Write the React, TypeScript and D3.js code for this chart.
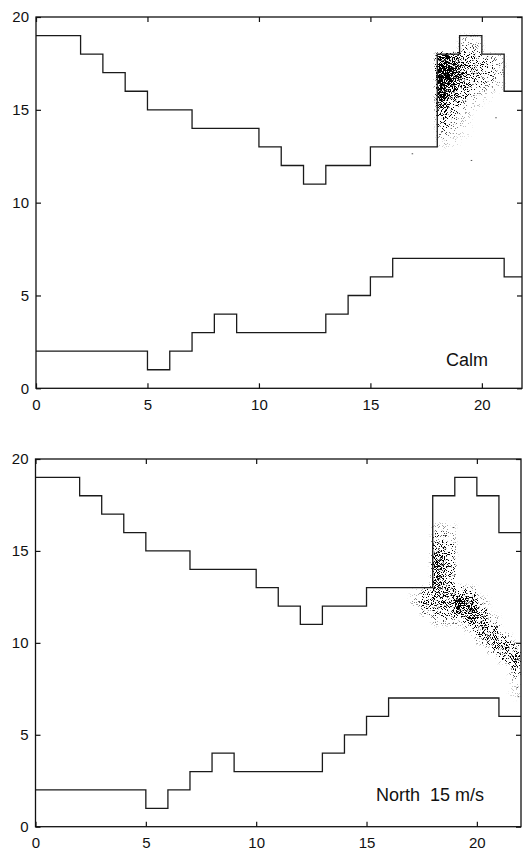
import React, { useEffect, useRef } from 'react';
import * as d3 from 'd3';

// axis ticks
const xTicks = [0, 5, 10, 15, 20];
const yTicks = [0, 5, 10, 15, 20];

// upper boundary (step, value holds until next x)
const upperX = [0, 2, 3, 4, 5, 7, 10, 11, 12, 13, 15, 18, 19, 20, 21, 22];
const upperY = [19, 18, 17, 16, 15, 14, 13, 12, 11, 12, 13, 18, 19, 18, 16, 16];

// lower boundary
const lowerX = [0, 5, 6, 7, 8, 9, 13, 14, 15, 16, 21, 22];
const lowerY = [2, 1, 2, 3, 4, 3, 4, 5, 6, 7, 6, 6];

// particle density cells, 0.5 x 0.5 units: [x0, y0, density]
type Cell = [number, number, number];
const calmCloud: Cell[] = [
  [19, 18.5, 0.1], [19.5, 18.5, 0.08],
  [19, 18, 0.2], [19.5, 18, 0.15],
  [18, 17.5, 0.9], [18.5, 17.5, 0.65], [19, 17.5, 0.45], [19.5, 17.5, 0.3], [20, 17.5, 0.18], [20.5, 17.5, 0.1],
  [18, 17, 0.95], [18.5, 17, 0.75], [19, 17, 0.5], [19.5, 17, 0.32], [20, 17, 0.22], [20.5, 17, 0.12],
  [18, 16.5, 1], [18.5, 16.5, 0.8], [19, 16.5, 0.5], [19.5, 16.5, 0.3], [20, 16.5, 0.22], [20.5, 16.5, 0.12],
  [18, 16, 0.95], [18.5, 16, 0.65], [19, 16, 0.38], [19.5, 16, 0.22], [20, 16, 0.12], [20.5, 16, 0.06],
  [18, 15.5, 0.85], [18.5, 15.5, 0.45], [19, 15.5, 0.22], [19.5, 15.5, 0.1], [20, 15.5, 0.04],
  [18, 15, 0.7], [18.5, 15, 0.3], [19, 15, 0.12], [19.5, 15, 0.05],
  [18, 14.5, 0.45], [18.5, 14.5, 0.18], [19, 14.5, 0.07],
  [18, 14, 0.28], [18.5, 14, 0.12], [19, 14, 0.05],
  [18, 13.5, 0.15], [18.5, 13.5, 0.08], [19, 13.5, 0.03],
  [18, 13, 0.07], [18.5, 13, 0.04],
];
const northCloud: Cell[] = [
  [18, 16, 0.1], [18.5, 16, 0.08],
  [18, 15.5, 0.25], [18.5, 15.5, 0.15],
  [18, 15, 0.45], [18.5, 15, 0.25],
  [18, 14.5, 0.55], [18.5, 14.5, 0.3],
  [18, 14, 0.75], [18.5, 14, 0.35],
  [18, 13.5, 0.6], [18.5, 13.5, 0.3],
  [18, 13, 0.55], [18.5, 13, 0.25],
  [17, 12.5, 0.05], [17.5, 12.5, 0.25], [18, 12.5, 0.5], [18.5, 12.5, 0.4], [19, 12.5, 0.45], [19.5, 12.5, 0.2],
  [17, 12, 0.1], [17.5, 12, 0.4], [18, 12, 0.45], [18.5, 12, 0.45], [19, 12, 0.85], [19.5, 12, 0.5], [20, 12, 0.1],
  [17.5, 11.5, 0.2], [18, 11.5, 0.35], [18.5, 11.5, 0.3], [19, 11.5, 0.6], [19.5, 11.5, 0.75], [20, 11.5, 0.25],
  [18, 11, 0.15], [18.5, 11, 0.15], [19, 11, 0.2], [19.5, 11, 0.55], [20, 11, 0.5], [20.5, 11, 0.1],
  [19.5, 10.5, 0.15], [20, 10.5, 0.55], [20.5, 10.5, 0.35],
  [20, 10, 0.3], [20.5, 10, 0.55], [21, 10, 0.2],
  [20.5, 9.5, 0.3], [21, 9.5, 0.5], [21.5, 9.5, 0.2],
  [21, 9, 0.35], [21.5, 9, 0.55],
  [21.5, 8.5, 0.45],
  [21.5, 8, 0.15],
  [21.5, 7.5, 0.05], [21.5, 7, 0.05],
];
const CELL = 0.5;

// isolated particles [x, y]
const calmStray: [number, number][] = [[16.85, 12.66], [19.5, 12.3], [21.8, 15.05], [20.6, 14.6]];
const northStray: [number, number][] = [[21.8, 7.6], [21.85, 7.1], [18.9, 16.3]];

type Box = { left: number; right: number; top: number; bottom: number; xMax: number };

const FONT = '"Liberation Sans", Arial, sans-serif';

function Panel({ box, cloud, stray, label, lx, ly }:
  { box: Box; cloud: Cell[]; stray: [number, number][]; label: string; lx: number; ly: number }) {
  const ref = useRef<SVGGElement>(null);

  useEffect(() => {
    const g = d3.select(ref.current);
    g.selectAll('*').remove();

    const x = d3.scaleLinear().domain([0, box.xMax]).range([box.left, box.right]);
    const y = d3.scaleLinear().domain([0, 20]).range([box.bottom, box.top]);

    const clipId = 'clip' + Math.round(box.top);
    g.append('clipPath').attr('id', clipId)
      .append('rect')
      .attr('x', box.left).attr('y', box.top)
      .attr('width', box.right - box.left).attr('height', box.bottom - box.top);

    const plot = g.append('g').attr('clip-path', `url(#${clipId})`);

    // particle cloud
    const cloudG = plot.append('g').attr('filter', 'url(#stipple)');
    cloudG.selectAll('rect')
      .data(cloud)
      .enter()
      .append('rect')
      .attr('x', d => x(d[0]))
      .attr('y', d => y(d[1] + CELL))
      .attr('width', d => x(d[0] + CELL) - x(d[0]))
      .attr('height', d => y(d[1]) - y(d[1] + CELL))
      .attr('fill', '#000')
      .attr('fill-opacity', d => d[2]);

    plot.selectAll('rect.stray')
      .data(stray)
      .enter()
      .append('rect')
      .attr('class', 'stray')
      .attr('x', d => x(d[0]))
      .attr('y', d => y(d[1]))
      .attr('width', 1.5)
      .attr('height', 1)
      .attr('fill', '#555');

    // boundaries
    const step = d3.line<[number, number]>()
      .x(d => x(d[0]))
      .y(d => y(d[1]))
      .curve(d3.curveStepAfter);

    plot.append('path')
      .datum(upperX.map((v, i) => [v, upperY[i]] as [number, number]))
      .attr('d', step)
      .attr('fill', 'none')
      .attr('stroke', '#1a1a1a')
      .attr('stroke-width', 1.3);

    plot.append('path')
      .datum(lowerX.map((v, i) => [v, lowerY[i]] as [number, number]))
      .attr('d', step)
      .attr('fill', 'none')
      .attr('stroke', '#1a1a1a')
      .attr('stroke-width', 1.3);

    // frame
    g.append('rect')
      .attr('x', box.left).attr('y', box.top)
      .attr('width', box.right - box.left).attr('height', box.bottom - box.top)
      .attr('fill', 'none')
      .attr('stroke', '#111')
      .attr('stroke-width', 1.3);

    const style = (s: any) => {
      s.select('.domain').remove();
      s.attr('font-family', FONT).attr('font-size', 15);
      s.selectAll('line').attr('stroke', '#111').attr('stroke-width', 1.2);
      s.selectAll('text').attr('fill', '#111');
    };

    g.append('g')
      .attr('transform', `translate(0,${box.bottom})`)
      .call(d3.axisBottom(x).tickValues(xTicks).tickSizeInner(-5).tickSizeOuter(0).tickPadding(11))
      .call(style);
    g.append('g')
      .attr('transform', `translate(0,${box.top})`)
      .call(d3.axisTop(x).tickValues(xTicks).tickSizeInner(-5).tickSizeOuter(0).tickFormat(() => ''))
      .call(style);
    g.append('g')
      .attr('transform', `translate(${box.left},0)`)
      .call(d3.axisLeft(y).tickValues(yTicks).tickSizeInner(-5).tickSizeOuter(0).tickPadding(7))
      .call(style);
    g.append('g')
      .attr('transform', `translate(${box.right},0)`)
      .call(d3.axisRight(y).tickValues(yTicks).tickSizeInner(-5).tickSizeOuter(0).tickFormat(() => ''))
      .call(style);

    g.append('text')
      .attr('x', lx)
      .attr('y', ly)
      .attr('font-family', FONT)
      .attr('font-size', 18)
      .attr('fill', '#111')
      .style('white-space', 'pre')
      .text(label);
  }, []);

  return <g ref={ref} />;
}

export default function App() {
  return (
    <svg width={523} height={851} style={{ position: 'absolute', left: 0, top: 0, background: '#fff' }}>
      <defs>
        <filter id="stipple" filterUnits="userSpaceOnUse" x="0" y="0" width="523" height="851"
          colorInterpolationFilters="sRGB">
          <feGaussianBlur in="SourceAlpha" stdDeviation="2.2" result="dens" />
          <feTurbulence type="fractalNoise" baseFrequency="1.1" numOctaves="2" seed="7" result="noise" />
          <feColorMatrix in="noise" type="matrix"
            values="0 0 0 0 0  0 0 0 0 0  0 0 0 0 0  3.2 0 0 0 -1.1" result="thr" />
          <feComposite in="dens" in2="thr" operator="arithmetic" k1="0" k2="5" k3="-5" k4="0" />
        </filter>
      </defs>
      <Panel box={{ left: 36, right: 522, top: 17, bottom: 388.3, xMax: 21.8 }}
        cloud={calmCloud} stray={calmStray} label="Calm" lx={446} ly={365.5} />
      <Panel box={{ left: 35.5, right: 521, top: 459, bottom: 826.7, xMax: 22 }}
        cloud={northCloud} stray={northStray} label="North  15 m/s" lx={376} ly={801} />
    </svg>
  );
}
